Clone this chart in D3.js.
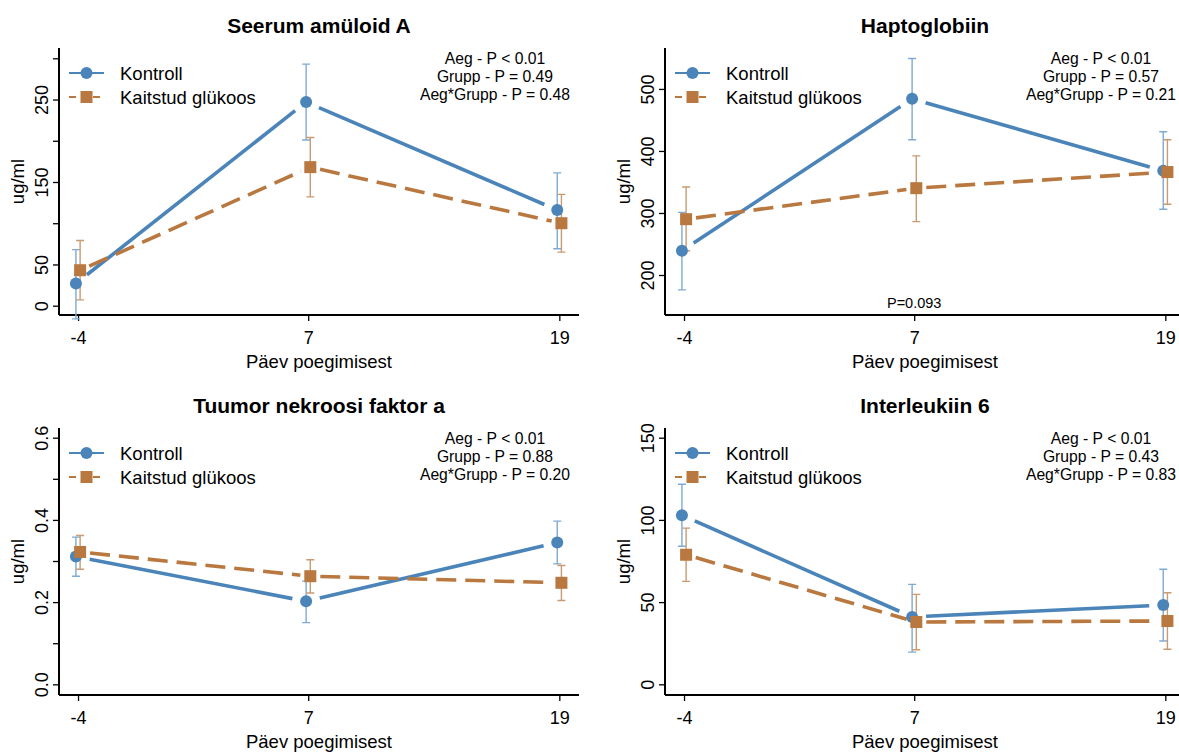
<!DOCTYPE html>
<html lang="et">
<head>
<meta charset="UTF-8">
<title>Põletikumarkerid</title>
<style>
  html, body { margin: 0; background: #fff; }
  svg { display: block; font-family: "Liberation Sans", Arial, sans-serif; }
</style>
<script src="https://cdn.jsdelivr.net/npm/d3@7"></script>
</head>
<body>
<script>
  // canvas
  const width = 1179
  const height = 754

  // data
  const days = [-4, 7, 19]
  const groups = ['Kontroll', 'Kaitstud glükoos']
  const titles = ['Seerum amüloid A', 'Haptoglobiin', 'Tuumor nekroosi faktor a', 'Interleukiin 6']
  const pAeg = ['< 0.01', '< 0.01', '< 0.01', '< 0.01']
  const pGrupp = ['= 0.49', '= 0.57', '= 0.88', '= 0.43']
  const pInter = ['= 0.48', '= 0.21', '= 0.20', '= 0.83']

  // means and 95% CI (low, high) per day
  const saaKontroll = [27, 247, 116]
  const saaKontrollLo = [-16, 201, 69]
  const saaKontrollHi = [68, 293, 161]
  const saaGluk = [43, 168, 100]
  const saaGlukLo = [7, 132, 65]
  const saaGlukHi = [79, 204, 135]

  const hpKontroll = [239, 484, 368]
  const hpKontrollLo = [176, 418, 306]
  const hpKontrollHi = [301, 549, 431]
  const hpGluk = [290, 340, 366]
  const hpGlukLo = [239, 286, 314]
  const hpGlukHi = [342, 392, 418]

  const tnfKontroll = [0.311, 0.202, 0.345]
  const tnfKontrollLo = [0.263, 0.150, 0.293]
  const tnfKontrollHi = [0.358, 0.251, 0.397]
  const tnfGluk = [0.322, 0.263, 0.247]
  const tnfGlukLo = [0.280, 0.222, 0.204]
  const tnfGlukHi = [0.362, 0.303, 0.289]

  const il6Kontroll = [102.8, 41, 48.2]
  const il6KontrollLo = [84, 19.6, 26.3]
  const il6KontrollHi = [121.7, 60.8, 70]
  const il6Gluk = [78.8, 37.9, 38.5]
  const il6GlukLo = [62.6, 21, 21.3]
  const il6GlukHi = [95, 54.7, 55.7]

  // y axes: domain, ticks, labelled ticks
  const yDomains = [[-11.3, 312.5], [135.5, 566], [-0.026, 0.6236], [-6.5, 155.9]]
  const yTicks = [[0, 50, 100, 150, 200, 250, 300], [200, 300, 400, 500], [0, 0.1, 0.2, 0.3, 0.4, 0.5, 0.6], [0, 50, 100, 150]]
  const yLabels = [[0, 50, 150, 250], [200, 300, 400, 500], [0, 0.2, 0.4, 0.6], [0, 50, 100, 150]]
  const yFormats = [d3.format('d'), d3.format('d'), d3.format('.1f'), d3.format('d')]
  const pNote = [null, 'P=0.093', null, null]

  const panels = [
    { k: saaKontroll, kLo: saaKontrollLo, kHi: saaKontrollHi, g: saaGluk, gLo: saaGlukLo, gHi: saaGlukHi },
    { k: hpKontroll, kLo: hpKontrollLo, kHi: hpKontrollHi, g: hpGluk, gLo: hpGlukLo, gHi: hpGlukHi },
    { k: tnfKontroll, kLo: tnfKontrollLo, kHi: tnfKontrollHi, g: tnfGluk, gLo: tnfGlukLo, gHi: tnfGlukHi },
    { k: il6Kontroll, kLo: il6KontrollLo, kHi: il6KontrollHi, g: il6Gluk, gLo: il6GlukLo, gHi: il6GlukHi }
  ]

  const colors = ['#4a84b8', '#b8783f']
  const ciColors = ['#7faad3', '#c99b72']
  const offsets = [-0.1, 0.1]
  const trims = [14, 10]

  // layout
  const plot = { left: 59, right: 579, top: 48, bottom: 315 }
  const origins = [[0, 0], [606, 0], [0, 380], [606, 380]]

  const svg = d3.select('body').append('svg')
    .attr('width', width)
    .attr('height', height)

  const x = d3.scaleLinear().domain([-4.909, 19.94]).range([plot.left, plot.right])

  // shorten a segment at both ends
  function trimmed(p0, p1, t) {
    const dx = p1[0] - p0[0], dy = p1[1] - p0[1]
    const len = Math.hypot(dx, dy)
    const ux = dx / len, uy = dy / len
    return [[p0[0] + ux * t, p0[1] + uy * t], [p1[0] - ux * t, p1[1] - uy * t]]
  }

  panels.forEach((p, i) => {
    const g = svg.append('g').attr('transform', `translate(${origins[i][0]}, ${origins[i][1]})`)
    const y = d3.scaleLinear().domain(yDomains[i]).range([plot.bottom, plot.top])

    // title
    g.append('text')
      .attr('x', (plot.left + plot.right) / 2)
      .attr('y', 33)
      .attr('text-anchor', 'middle')
      .attr('font-size', 21)
      .attr('font-weight', 'bold')
      .text(titles[i])

    // x axis
    const xAxis = d3.axisBottom(x).tickValues(days).tickSize(6).tickPadding(10).tickFormat(d3.format('d'))
    const gx = g.append('g')
      .attr('transform', `translate(0, ${plot.bottom})`)
      .call(xAxis)
    gx.select('.domain').attr('d', `M${plot.left},0H${plot.right}`).attr('stroke-width', 2)
    gx.selectAll('.tick line').attr('stroke-width', 1.3)
    gx.selectAll('.tick text').attr('font-size', 18).attr('font-family', null).text(d => d3.format('d')(d).replace('−', '-'))

    g.append('text')
      .attr('x', (plot.left + plot.right) / 2)
      .attr('y', 368)
      .attr('text-anchor', 'middle')
      .attr('font-size', 18.5)
      .text('Päev poegimisest')

    // y axis
    const yAxis = d3.axisLeft(y).tickValues(yTicks[i]).tickSize(6)
      .tickFormat(d => yLabels[i].includes(d) ? yFormats[i](d) : '')
    const gy = g.append('g')
      .attr('transform', `translate(${plot.left}, 0)`)
      .call(yAxis)
    gy.select('.domain').attr('d', `M0,${plot.bottom}V${plot.top}`).attr('stroke-width', 2)
    gy.selectAll('.tick line').attr('stroke-width', 1.3)
    gy.selectAll('.tick text')
      .attr('font-size', 18)
      .attr('font-family', null)
      .attr('transform', 'rotate(-90)')
      .attr('text-anchor', 'middle')
      .attr('x', 0)
      .attr('dy', 0)
      .attr('y', -11)

    g.append('text')
      .attr('transform', `translate(24, ${(plot.top + plot.bottom) / 2}) rotate(-90)`)
      .attr('text-anchor', 'middle')
      .attr('font-size', 18.5)
      .text('ug/ml')

    // series
    const series = [
      { mean: p.k, lo: p.kLo, hi: p.kHi },
      { mean: p.g, lo: p.gLo, hi: p.gHi }
    ]

    series.forEach((s, j) => {
      const pts = days.map((d, n) => [x(d + offsets[j]), y(s.mean[n])])

      // connecting lines with a gap at every marker
      d3.pairs(pts).forEach(([a, b]) => {
        const seg = trimmed(a, b, trims[j])
        g.append('path')
          .attr('d', d3.line()(seg))
          .attr('fill', 'none')
          .attr('stroke', colors[j])
          .attr('stroke-width', 3.6)
          .attr('stroke-dasharray', j === 1 ? '20,9' : null)
      })

      // error bars
      const cap = 4
      days.forEach((d, n) => {
        const cx = x(d + offsets[j])
        g.append('path')
          .attr('d', `M${cx},${y(s.lo[n])}V${y(s.hi[n])}M${cx - cap},${y(s.hi[n])}H${cx + cap}M${cx - cap},${y(s.lo[n])}H${cx + cap}`)
          .attr('fill', 'none')
          .attr('stroke', ciColors[j])
          .attr('stroke-width', 1.4)
      })
    })

    // markers on top
    g.selectAll('.kMark')
      .data(days)
      .enter()
      .append('circle')
      .attr('class', 'kMark')
      .attr('cx', d => x(d + offsets[0]))
      .attr('cy', (d, n) => y(p.k[n]))
      .attr('r', 6)
      .attr('fill', colors[0])

    g.selectAll('.gMark')
      .data(days)
      .enter()
      .append('rect')
      .attr('class', 'gMark')
      .attr('x', d => x(d + offsets[1]) - 6)
      .attr('y', (d, n) => y(p.g[n]) - 6)
      .attr('width', 12)
      .attr('height', 12)
      .attr('fill', colors[1])

    // legend
    const legY = [73, 97]
    groups.forEach((name, j) => {
      g.append('line')
        .attr('x1', 69).attr('x2', 104)
        .attr('y1', legY[j]).attr('y2', legY[j])
        .attr('stroke', colors[j])
        .attr('stroke-width', 2)
        .attr('stroke-dasharray', j === 1 ? '7,5' : null)
      if (j === 0) {
        g.append('circle').attr('cx', 86.5).attr('cy', legY[j]).attr('r', 6).attr('fill', colors[j])
      } else {
        g.append('rect').attr('x', 80.5).attr('y', legY[j] - 6).attr('width', 12).attr('height', 12).attr('fill', colors[j])
      }
      g.append('text')
        .attr('x', 120)
        .attr('y', legY[j] + 6.5)
        .attr('font-size', 18.5)
        .text(name)
    })

    // p-values
    const notes = [`Aeg - P ${pAeg[i]}`, `Grupp - P ${pGrupp[i]}`, `Aeg*Grupp - P ${pInter[i]}`]
    g.selectAll('.pText')
      .data(notes)
      .enter()
      .append('text')
      .attr('class', 'pText')
      .attr('x', 495)
      .attr('y', (d, n) => 64 + n * 17.8)
      .attr('text-anchor', 'middle')
      .attr('font-size', 15.7)
      .text(d => d)

    if (pNote[i]) {
      g.append('text')
        .attr('x', x(7))
        .attr('y', 308)
        .attr('text-anchor', 'middle')
        .attr('font-size', 14.5)
        .text(pNote[i])
    }
  })
</script>
</body>
</html>
